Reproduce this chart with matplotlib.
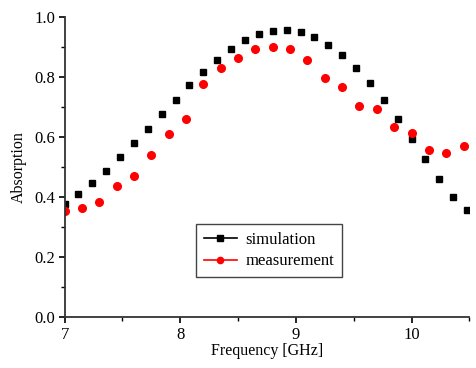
import matplotlib.pyplot as plt
from matplotlib.lines import Line2D
from matplotlib.ticker import MultipleLocator
import numpy as np

plt.rcParams['font.family'] = ['Liberation Serif', 'DejaVu Serif']
plt.rcParams['font.size'] = 12

# simulation: 30 points, 7.00 .. 10.48 GHz
sim_f = [7.00, 7.12, 7.24, 7.36, 7.48, 7.60, 7.72, 7.84, 7.96, 8.08,
         8.20, 8.32, 8.44, 8.56, 8.68, 8.80, 8.92, 9.04, 9.16, 9.28,
         9.40, 9.52, 9.64, 9.76, 9.88, 10.00, 10.12, 10.24, 10.36, 10.48]
sim_a = [0.377, 0.410, 0.447, 0.488, 0.532, 0.579, 0.628, 0.676, 0.724, 0.772,
         0.817, 0.858, 0.894, 0.922, 0.944, 0.954, 0.957, 0.950, 0.932, 0.907,
         0.872, 0.830, 0.779, 0.722, 0.660, 0.594, 0.526, 0.459, 0.400, 0.358]

# measurement: 24 points, 7.00 .. 10.45 GHz
meas_f = [7.00, 7.15, 7.30, 7.45, 7.60, 7.75, 7.90, 8.05, 8.20, 8.35,
          8.50, 8.65, 8.80, 8.95, 9.10, 9.25, 9.40, 9.55, 9.70, 9.85,
          10.00, 10.15, 10.30, 10.45]
meas_a = [0.354, 0.364, 0.383, 0.437, 0.469, 0.539, 0.611, 0.660, 0.776, 0.830,
          0.864, 0.892, 0.901, 0.893, 0.858, 0.796, 0.768, 0.703, 0.693, 0.633,
          0.614, 0.557, 0.546, 0.571]

fig = plt.figure(figsize=(4.77, 3.68), dpi=100)
ax = fig.add_axes([0.1354, 0.1386, 0.8486, 0.8152])

ax.plot(sim_f, sim_a, linestyle='none', marker='s', ms=5, color='black')
ax.plot(meas_f, meas_a, linestyle='none', marker='o', ms=5.5, color='red', mec='red')

ax.set_xlim(7, 10.5)
ax.set_ylim(0, 1.0)
ax.xaxis.set_major_locator(MultipleLocator(1))
ax.xaxis.set_minor_locator(MultipleLocator(0.5))
ax.yaxis.set_major_locator(MultipleLocator(0.2))
ax.yaxis.set_minor_locator(MultipleLocator(0.1))
ax.yaxis.set_major_formatter(plt.FormatStrFormatter('%.1f'))
ax.spines['top'].set_visible(False)
ax.spines['right'].set_visible(False)
for s in ('left', 'bottom'):
    ax.spines[s].set_linewidth(1.3)
    ax.spines[s].set_color('#333333')
ax.tick_params(which='major', direction='out', length=4, width=1.2, labelsize=12, pad=3)
ax.tick_params(which='minor', direction='out', length=3, width=1.0)

ax.set_xlabel('Frequency [GHz]', fontsize=11.5, labelpad=0)
ax.set_ylabel('Absorption', fontsize=11.5, labelpad=5)

handles = [Line2D([], [], color='black', marker='s', ms=4, lw=1.2),
           Line2D([], [], color='red', marker='o', ms=4.5, lw=1.2)]
leg = ax.legend(handles, ['simulation', 'measurement'], loc='center',
                bbox_to_anchor=(0.5046, 0.2217), fancybox=False, framealpha=1,
                edgecolor='#444444', handlelength=2.0, handletextpad=0.5,
                labelspacing=0.35, borderpad=0.45, borderaxespad=0, fontsize=12)
leg.get_frame().set_linewidth(1.0)

fig.savefig('out.png', dpi=100)
